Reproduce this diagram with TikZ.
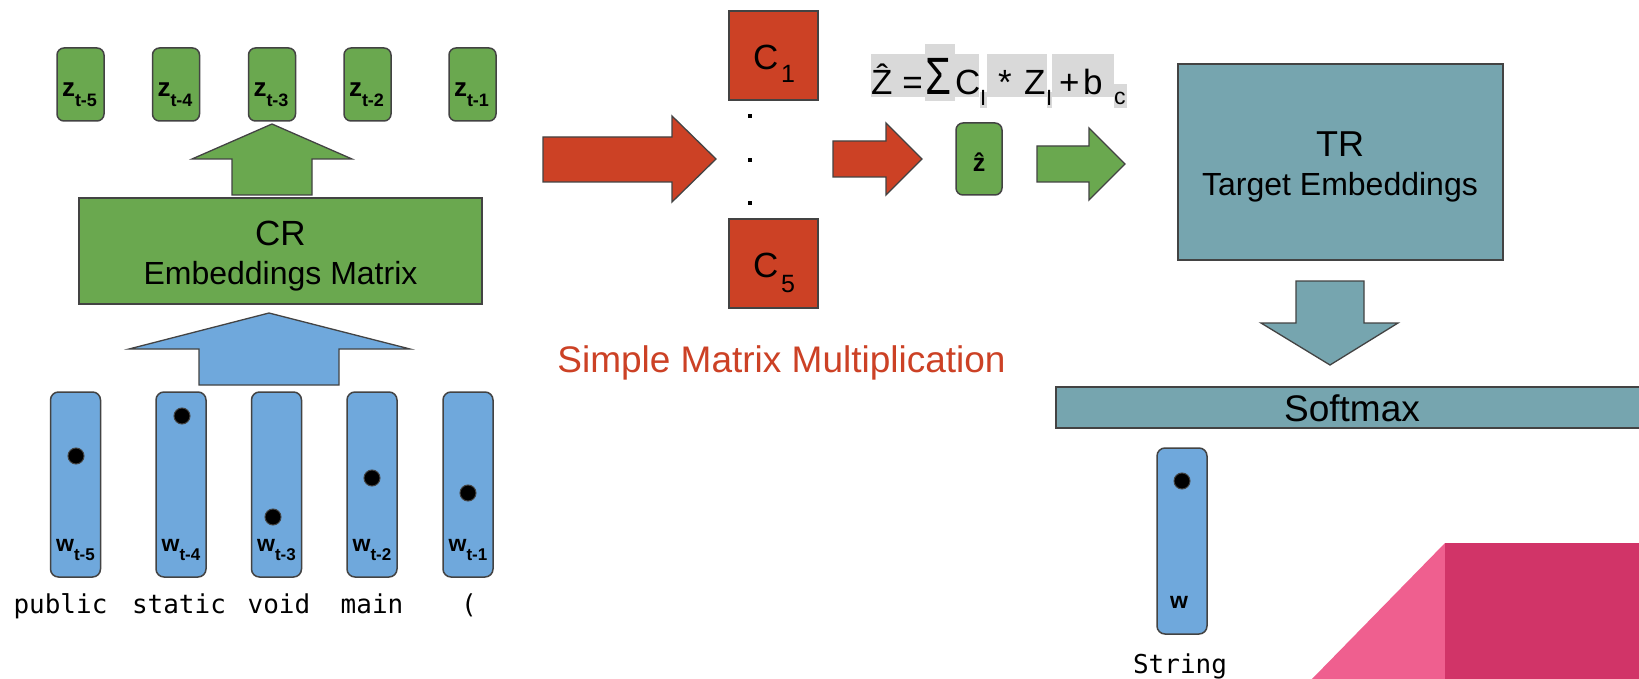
\documentclass[tikz,border=0pt]{standalone}
\usepackage{fontspec}
\setmainfont{Liberation Sans}
\newfontfamily\monof{DejaVu Sans Mono}
\definecolor{gfill}{HTML}{6AA84F}
\definecolor{bfill}{HTML}{6FA8DC}
\definecolor{rfill}{HTML}{CC4125}
\definecolor{tfill}{HTML}{76A5AF}
\definecolor{edge}{HTML}{434343}
\definecolor{hl}{HTML}{D9D9D9}
\definecolor{pinkL}{HTML}{EF5F8F}
\definecolor{pinkD}{HTML}{D13468}
\newcommand\fsz[1]{\fontsize{#1}{#1}\selectfont}
\newcommand\zlab[1]{{\fsz{26}\bfseries z}\raisebox{-10pt}{\fsz{18}\bfseries #1}}
\newcommand\wlab[1]{{\fsz{23}\bfseries w}\raisebox{-9pt}{\fsz{17}\bfseries #1}}
\begin{document}
\begin{tikzpicture}[x=1pt,y=-1pt,
  zbox/.style={draw=edge,line width=1.5pt,fill=gfill,rounded corners=7pt,minimum width=47pt,minimum height=73pt,inner sep=0pt},
  wbox/.style={draw=edge,line width=1.5pt,fill=bfill,rounded corners=8pt,minimum width=50pt,minimum height=185pt,inner sep=0pt},
  sqbox/.style={draw=edge,line width=1.5pt,inner sep=0pt},
  dotn/.style={circle,fill=black,draw=edge,line width=1pt,minimum size=16pt,inner sep=0pt},
  pdot/.style={fill=black,minimum size=4pt,inner sep=0pt},
  lbl/.style={inner sep=0pt,anchor=base},
  lblw/.style={inner sep=0pt,anchor=base west},
  barrow/.style={draw=edge,line width=1.3pt,line join=miter},
  word/.style={inner sep=0pt,anchor=base,font=\monof\fsz{26}}
]
\useasboundingbox (0,0) rectangle (1639,679);
\fill[white] (0,0) rectangle (1639,679);

% ---------- left: context embeddings ----------
\foreach \n/\cx in {5/80.5,4/176,3/272,2/367.5,1/472.5}{
  \node[zbox] (z\n) at (\cx,84.5) {};
  \node[lbl] (zl\n) at (\cx-1,97) {\zlab{t-\n}};
}
\filldraw[barrow,fill=gfill] (232,195) -- (232,159) -- (192,159) -- (272,124) -- (352,159) -- (312,159) -- (312,195) -- cycle;
\node[sqbox,fill=gfill,minimum width=403pt,minimum height=106pt] (cr) at (280.5,251) {};
\node[lbl,font=\fsz{35}] (crt) at (280.5,246) {CR};
\node[lbl,font=\fsz{32}] (crs) at (280.5,284) {Embeddings Matrix};
\filldraw[barrow,fill=bfill] (199,385) -- (199,349) -- (129,349) -- (269,313) -- (410,349) -- (339,349) -- (339,385) -- cycle;

\foreach \n/\cx in {5/75.5,4/181,3/276.5,2/372,1/468}{
  \node[wbox] (w\n) at (\cx,484.5) {};
  \node[lbl] (wl\n) at (\cx,551) {\wlab{t-\n}};
}
\node[dotn] (d5) at (76,456) {};
\node[dotn] (d4) at (182,416) {};
\node[dotn] (d3) at (273,517) {};
\node[dotn] (d2) at (372,478) {};
\node[dotn] (d1) at (468,493) {};
\node[word] (tw5) at (60.5,613) {public};
\node[word] (tw4) at (179,613) {static};
\node[word] (tw3) at (279,613) {void};
\node[word] (tw2) at (372,613) {main};
\node[word] (tw1) at (469,613) {(};

% ---------- middle ----------
\filldraw[barrow,fill=rfill] (543,137) -- (672,137) -- (672,116) -- (716,159) -- (672,202) -- (672,182) -- (543,182) -- cycle;
\node[sqbox,fill=rfill,minimum width=89pt,minimum height=89pt] (c1) at (773.5,55.5) {};
\node[lblw,font=\fsz{35}] (c1t) at (753,70) {C};
\node[lblw,font=\fsz{25}] (c1s) at (781,83) {1};
\node[sqbox,fill=rfill,minimum width=89pt,minimum height=89pt] (c5) at (773.5,263.5) {};
\node[lblw,font=\fsz{35}] (c5t) at (753,277) {C};
\node[lblw,font=\fsz{25}] (c5s) at (781,292) {5};
\node[pdot] (p1) at (750,116) {};
\node[pdot] (p2) at (750,160) {};
\node[pdot] (p3) at (750,203) {};
\filldraw[barrow,fill=rfill] (833,141) -- (886,141) -- (886,123) -- (922,159) -- (886,195) -- (886,177) -- (833,177) -- cycle;
\node[zbox,minimum width=46pt,minimum height=72pt] (zh) at (979,159) {};
\node[lbl,font=\fsz{25}\bfseries] (zht) at (979,172) {\^{z}};
\filldraw[barrow,fill=gfill] (1037,146) -- (1089,146) -- (1089,128) -- (1125,164) -- (1089,200) -- (1089,182) -- (1037,182) -- cycle;
\node[lbl,font=\fsz{37},text=rfill] (smm) at (781.5,372) {Simple Matrix Multiplication};

% formula
\fill[hl] (871,54) rectangle (925,97);
\fill[hl] (925,44) rectangle (955,101);
\fill[hl] (955,54) rectangle (979,97);
\fill[hl] (980,92) rectangle (987,108);
\fill[hl] (987,54) rectangle (1047,97);
\fill[hl] (1047,92) rectangle (1052,108);
\fill[hl] (1052,54) rectangle (1114,97);
\fill[hl] (1114,84) rectangle (1127,108);
\node[lblw,font=\fsz{35}] (f1) at (871,95) {\^{Z} =};
\node[lblw] (f2) at (925,95) {\scalebox{1.2}[1.5]{\fsz{35}Σ}};
\node[lblw,font=\fsz{35}] (f3) at (955,95) {C};
\node[lblw,font=\fsz{22}] (f4) at (980,106) {I};
\node[lblw,font=\fsz{35}] (f5) at (998,95) {*};
\node[lblw,font=\fsz{35}] (f6) at (1024,95) {Z};
\node[lblw,font=\fsz{22}] (f7) at (1046,106) {I};
\node[lblw,font=\fsz{35}] (f8) at (1059,95) {+};
\node[lblw,font=\fsz{35}] (f9) at (1083,95) {b};
\node[lblw,font=\fsz{23}] (f10) at (1114,105) {c};

% ---------- right ----------
\node[sqbox,fill=tfill,minimum width=325pt,minimum height=196pt] (tr) at (1340.5,162) {};
\node[lbl,font=\fsz{36}] (trt) at (1340,157) {TR};
\node[lbl,font=\fsz{32}] (trs) at (1340,196) {Target Embeddings};
\filldraw[barrow,fill=tfill] (1296,281) -- (1364,281) -- (1364,323) -- (1398,323) -- (1330,365) -- (1261,323) -- (1296,323) -- cycle;
\node[sqbox,fill=tfill,minimum width=590pt,minimum height=41pt] (sm) at (1351,407.5) {};
\node[lbl,font=\fsz{37}] (smt) at (1352,421) {Softmax};
\node[wbox,minimum height=186pt] (wo) at (1182,541) {};
\node[dotn] (dwo) at (1182,481) {};
\node[lbl,font=\fsz{23}\bfseries] (wol) at (1179,608) {w};
\node[word] (tstr) at (1180,673) {String};

% corner decoration
\fill[pinkL] (1311,680) -- (1445,543) -- (1445,680) -- cycle;
\fill[pinkD] (1445,543) rectangle (1640,680);
\end{tikzpicture}
\end{document}
